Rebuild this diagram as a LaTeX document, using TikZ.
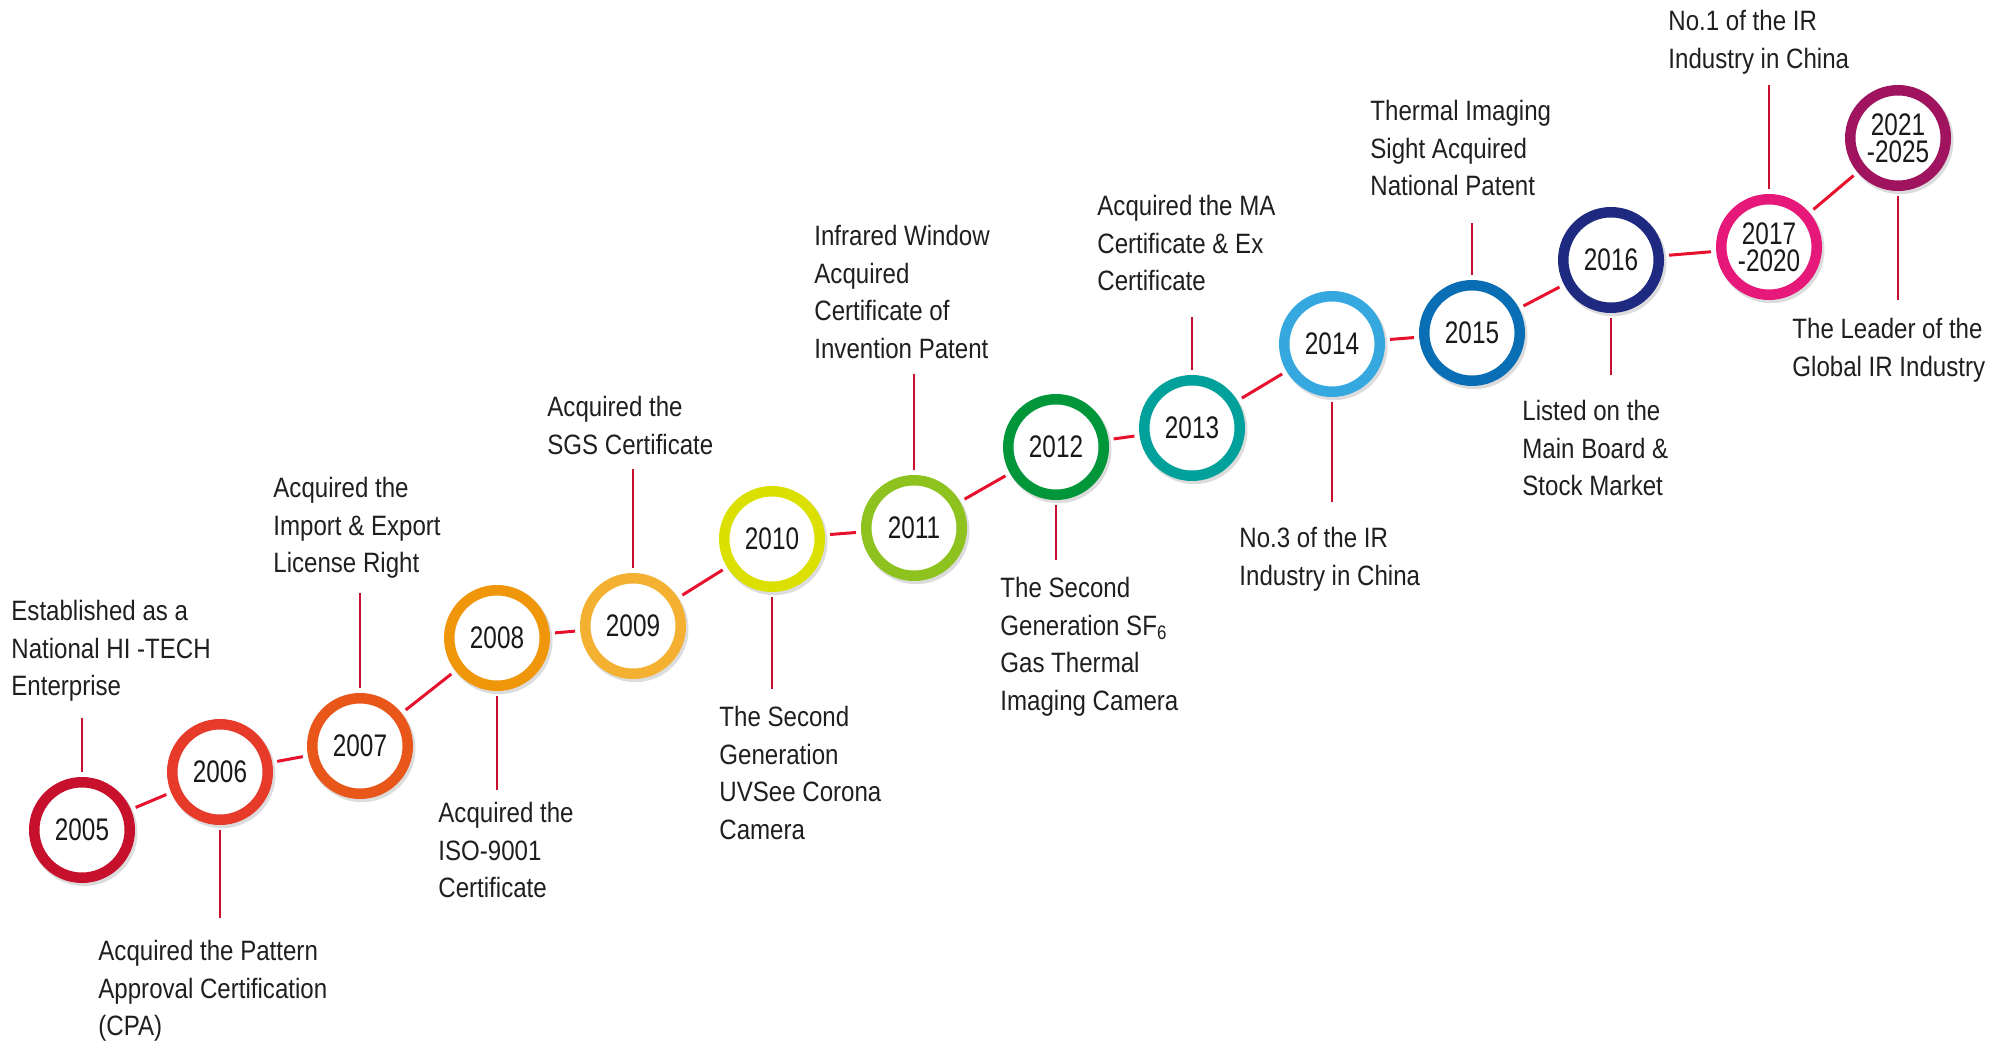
\documentclass[tikz,border=0pt]{standalone}
\usepackage{fontspec}
\setmainfont{Liberation Sans}[FakeStretch=0.86]
\newfontfamily\yearfont{Liberation Sans}[FakeStretch=0.78]
\usetikzlibrary{positioning, shadows}

\definecolor{c2005}{RGB}{198,16,44}
\definecolor{c2006}{RGB}{230,58,42}
\definecolor{c2007}{RGB}{232,86,26}
\definecolor{c2008}{RGB}{240,150,10}
\definecolor{c2009}{RGB}{244,176,48}
\definecolor{c2010}{RGB}{220,224,0}
\definecolor{c2011}{RGB}{141,194,31}
\definecolor{c2012}{RGB}{0,150,57}
\definecolor{c2013}{RGB}{0,161,154}
\definecolor{c2014}{RGB}{53,168,224}
\definecolor{c2015}{RGB}{10,110,180}
\definecolor{c2016}{RGB}{29,42,128}
\definecolor{c2017}{RGB}{230,25,122}
\definecolor{c2021}{RGB}{160,19,94}
\definecolor{linkred}{RGB}{232,17,45}
\definecolor{stemred}{RGB}{200,16,46}

\begin{document}
\begin{tikzpicture}
[
						x=0.5pt, y=-0.5pt,
						year/.style = {draw, circle, fill=white, line width=5.25pt, minimum size=47.75pt, inner sep=0pt, align=center, text=black!90, font=\yearfont\fontsize{15.6}{13.5}\selectfont, drop shadow={shadow xshift=0.9pt, shadow yshift=-1.2pt, shadow scale=1.12, opacity=0.28}},
						link/.style = {draw=linkred, line width=1.5pt, shorten <=2.6pt, shorten >=2.6pt},
						stem/.style = {draw=stemred, line width=1.2pt, shorten <=2.6pt},
						note/.style = {anchor=north west, inner sep=0pt, align=left, text=black!88, font=\fontsize{14}{18.75}\selectfont}
					]
\useasboundingbox (0,0) rectangle (2001,1042);
% years
\node[year, draw=c2005] (2005) at (82,830) {2005};
\node[year, draw=c2006] (2006) at (220,772) {2006};
\node[year, draw=c2007] (2007) at (360,746) {2007};
\node[year, draw=c2008] (2008) at (497,638) {2008};
\node[year, draw=c2009] (2009) at (633,626) {2009};
\node[year, draw=c2010] (2010) at (772,539) {2010};
\node[year, draw=c2011] (2011) at (914,528) {2011};
\node[year, draw=c2012] (2012) at (1056,447) {2012};
\node[year, draw=c2013] (2013) at (1192,428) {2013};
\node[year, draw=c2014] (2014) at (1332,344) {2014};
\node[year, draw=c2015] (2015) at (1472,333) {2015};
\node[year, draw=c2016] (2016) at (1611,260) {2016};
\node[year, draw=c2017] (2017) at (1769,247) {2017\\-2020};
\node[year, draw=c2021] (2021) at (1898,138) {2021\\-2025};
% timeline
\draw[link] (2005) -- (2006);
\draw[link] (2006) -- (2007);
\draw[link] (2007) -- (2008);
\draw[link] (2008) -- (2009);
\draw[link] (2009) -- (2010);
\draw[link] (2010) -- (2011);
\draw[link] (2011) -- (2012);
\draw[link] (2012) -- (2013);
\draw[link] (2013) -- (2014);
\draw[link] (2014) -- (2015);
\draw[link] (2015) -- (2016);
\draw[link] (2016) -- (2017);
\draw[link] (2017) -- (2021);
% stems
\coordinate (s2005) at (82,718);
\coordinate (s2006) at (220,918);
\coordinate (s2007) at (360,593);
\coordinate (s2008) at (497,790);
\coordinate (s2009) at (633,469);
\coordinate (s2010) at (772,689);
\coordinate (s2011) at (914,374);
\coordinate (s2012) at (1056,560);
\coordinate (s2013) at (1192,317);
\coordinate (s2014) at (1332,502);
\coordinate (s2015) at (1472,223);
\coordinate (s2016) at (1611,375);
\coordinate (s2017) at (1769,85);
\coordinate (s2021) at (1898,300);
\draw[stem] (2005) -- (s2005);
\draw[stem] (2006) -- (s2006);
\draw[stem] (2007) -- (s2007);
\draw[stem] (2008) -- (s2008);
\draw[stem] (2009) -- (s2009);
\draw[stem] (2010) -- (s2010);
\draw[stem] (2011) -- (s2011);
\draw[stem] (2012) -- (s2012);
\draw[stem] (2013) -- (s2013);
\draw[stem] (2014) -- (s2014);
\draw[stem] (2015) -- (s2015);
\draw[stem] (2016) -- (s2016);
\draw[stem] (2017) -- (s2017);
\draw[stem] (2021) -- (s2021);
% notes
\node[note] (t2005) at (11,600) {Established as a\\National HI -TECH\\Enterprise};
\node[note] (t2006) at (98,940) {Acquired the Pattern\\Approval Certification\\(CPA)};
\node[note] (t2007) at (273,477) {Acquired the\\Import \& Export\\License Right};
\node[note] (t2008) at (438,802) {Acquired the\\ISO-9001\\Certificate};
\node[note] (t2009) at (547,396) {Acquired the\\SGS Certificate};
\node[note] (t2010) at (719,706) {The Second\\Generation\\UVSee Corona\\Camera};
\node[note] (t2011) at (814,225) {Infrared Window\\Acquired\\Certificate of\\Invention Patent};
\node[note] (t2012) at (1000,577) {The Second\\Generation SF\textsubscript{6}\\Gas Thermal\\Imaging Camera};
\node[note] (t2013) at (1097,195) {Acquired the MA\\Certificate \& Ex\\Certificate};
\node[note] (t2014) at (1239,527) {No.3 of the IR\\Industry in China};
\node[note] (t2015) at (1370,100) {Thermal Imaging\\Sight Acquired\\National Patent};
\node[note] (t2016) at (1522,400) {Listed on the\\Main Board \&\\Stock Market};
\node[note] (t2017) at (1668,10) {No.1 of the IR\\Industry in China};
\node[note] (t2021) at (1792,318) {The Leader of the\\Global IR Industry};
\end{tikzpicture}
\end{document}
